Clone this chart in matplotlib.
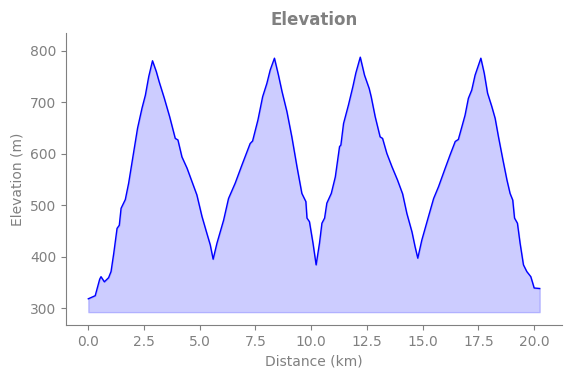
import matplotlib
matplotlib.use("Agg")
import matplotlib.pyplot as plt
import numpy as np

distance_km = [0.0, 0.31, 0.51, 0.57, 0.72, 0.91, 1.02, 1.14, 1.29, 1.39, 1.47, 1.66, 1.81,
               2.0, 2.21, 2.41, 2.56, 2.71, 2.88, 3.05, 3.18, 3.41, 3.65, 3.9, 4.02, 4.2,
               4.43, 4.65, 4.87, 5.1, 5.32, 5.47, 5.6, 5.77, 6.07, 6.29, 6.59, 6.89, 7.26,
               7.37, 7.61, 7.82, 8.01, 8.16, 8.35, 8.53, 8.69, 8.91, 9.13, 9.36, 9.58, 9.76,
               9.81, 9.92, 10.08, 10.22, 10.37, 10.48, 10.6, 10.7, 10.9, 11.08, 11.27, 11.33,
               11.45, 11.67, 11.87, 12.0, 12.2, 12.39, 12.6, 12.69, 12.87, 13.09, 13.2, 13.39,
               13.62, 13.87, 14.1, 14.29, 14.52, 14.66, 14.78, 14.96, 15.26, 15.49, 15.71,
               16.01, 16.23, 16.46, 16.6, 16.76, 16.9, 17.05, 17.2, 17.35, 17.61, 17.76,
               17.91, 18.1, 18.25, 18.4, 18.6, 18.78, 18.92, 19.04, 19.12, 19.25, 19.37,
               19.52, 19.67, 19.85, 19.94, 20.0, 20.25]
elevation_m = [318, 324, 356, 361, 351, 359, 371, 406, 455, 461, 494, 511, 543,
               594, 650, 689, 714, 750, 781, 760, 740, 708, 672, 630, 627, 594,
               572, 546, 520, 478, 445, 423, 395, 426, 471, 513, 543, 578, 620,
               625, 666, 711, 737, 763, 786, 753, 721, 682, 633, 575, 523, 507,
               475, 468, 426, 384, 426, 465, 475, 504, 523, 555, 614, 617,
               659, 695, 731, 757, 788, 753, 727, 711, 672, 633, 630, 601,
               575, 549, 522, 484, 448, 419, 397, 432, 478, 513, 536,
               572, 598, 624, 628, 653, 675, 708, 724, 753, 786, 757,
               718, 692, 669, 633, 588, 549, 523, 510, 475, 465, 426,
               384, 371, 361, 348, 339, 338]
fill_base = 292

gray = "#808080"
fig = plt.figure(figsize=(5.71, 3.78), dpi=100)
ax = fig.add_axes([66/571, 1-325/378, (562-66)/571, (325-33)/378])

ax.fill_between(distance_km, elevation_m, fill_base, color="blue", alpha=0.2)
ax.plot(distance_km, elevation_m, color="blue", linewidth=1.0)

ax.set_xlim(-1.0, 21.25)
ax.set_ylim(267, 835)
ax.set_xticks([0, 2.5, 5, 7.5, 10, 12.5, 15, 17.5, 20])
ax.set_yticks([300, 400, 500, 600, 700, 800])

ax.set_title("Elevation", color=gray, fontsize=12, fontweight="bold")
ax.set_xlabel("Distance (km)", color=gray, fontsize=10)
ax.set_ylabel("Elevation (m)", color=gray, fontsize=10)

for s in ["top", "right"]:
    ax.spines[s].set_visible(False)
for s in ["left", "bottom"]:
    ax.spines[s].set_color(gray)
ax.tick_params(colors=gray, labelsize=10)

fig.savefig("out.png", dpi=100)
